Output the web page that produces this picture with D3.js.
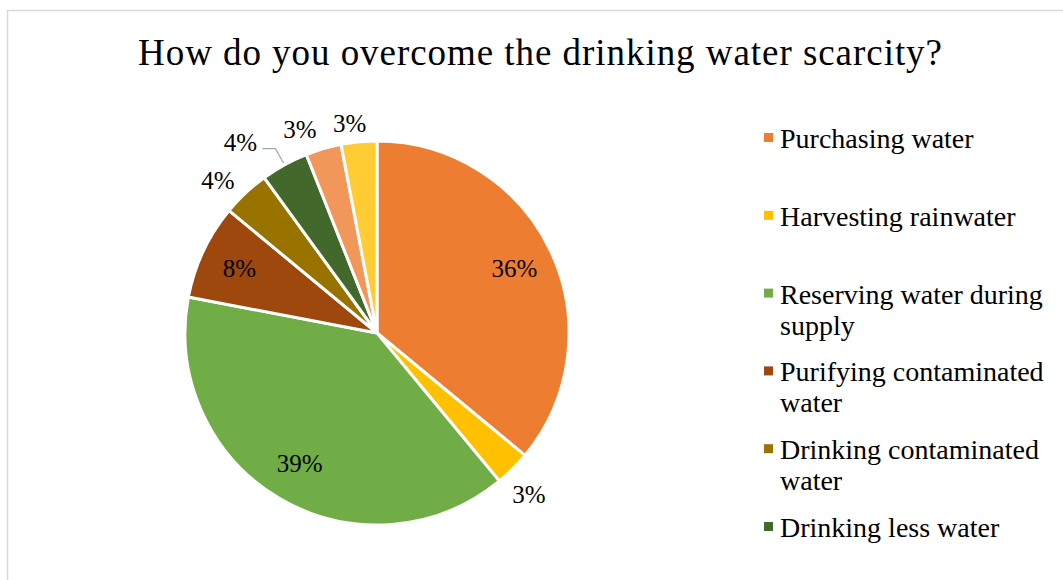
<!DOCTYPE html>
<html>
<head>
<meta charset="utf-8">
<script src="https://cdn.jsdelivr.net/npm/d3@7"></script>
<style>
  body { margin: 0; background: #fff; }
  svg { display: block; }
</style>
</head>
<body>
<div id="chart"></div>
<script>
// answers to "How do you overcome the drinking water scarcity?" (percent)
const categories = [
  "Purchasing water",
  "Harvesting rainwater",
  "Reserving water during supply",
  "Purifying contaminated water",
  "Drinking contaminated water",
  "Drinking less water",
  "Other (7)",
  "Other (8)"
];
const values = [36, 3, 39, 8, 4, 4, 3, 3];
const colors = ["#ED7D31", "#FFC000", "#70AD47", "#9E480E", "#997300", "#43682B", "#F1975A", "#FFCD33"];
// legend shows only the first six entries, wrapped as in the original
const legendLines = [
  ["Purchasing water"],
  ["Harvesting rainwater"],
  ["Reserving water during", "supply"],
  ["Purifying contaminated", "water"],
  ["Drinking contaminated", "water"],
  ["Drinking less water"]
];

const width = 1063, height = 580;
const font = "'Liberation Serif', 'DejaVu Serif', serif";

const svg = d3.select("#chart").append("svg")
  .attr("width", width)
  .attr("height", height);

// chart area border
svg.append("rect")
  .attr("x", 7.5).attr("y", 10.5)
  .attr("width", width + 20).attr("height", height + 20)
  .attr("fill", "#fff")
  .attr("stroke", "#d9d9d9")
  .attr("stroke-width", 1.5);

// title
svg.append("text")
  .attr("x", 540).attr("y", 65)
  .attr("text-anchor", "middle")
  .attr("textLength", 804)
  .attr("lengthAdjust", "spacing")
  .style("font-family", font)
  .style("font-size", "37px")
  .style("fill", "#000")
  .text("How do you overcome the drinking water scarcity?");

// pie
const cx = 377, cy = 333, radius = 192;
const pie = d3.pie().sort(null).value(d => d);
const arcs = pie(values);
const arc = d3.arc().innerRadius(0).outerRadius(radius);

const g = svg.append("g").attr("transform", `translate(${cx},${cy})`);

g.selectAll("path.slice")
  .data(arcs)
  .enter()
  .append("path")
  .attr("class", "slice")
  .attr("d", arc)
  .attr("fill", (d, i) => colors[i])
  .attr("stroke", "#fff")
  .attr("stroke-width", 3);

// labels: big slices inside, small ones outside (nudged apart like the original)
const inArc = d3.arc().innerRadius(152).outerRadius(152);
const outArc = d3.arc().innerRadius(215).outerRadius(215);
const nudge = { 1: [0, 9], 4: [-12, 4], 5: [-33, -2], 6: [-17, 3], 7: [-7, 5] };

function labelPos(d, i) {
  const [x, y] = (d.data >= 5 ? inArc : outArc).centroid(d);
  const n = nudge[i] || [0, 0];
  return [x + n[0], y + n[1]];
}

g.selectAll("text.lbl")
  .data(arcs)
  .enter()
  .append("text")
  .attr("class", "lbl")
  .attr("x", (d, i) => labelPos(d, i)[0])
  .attr("y", (d, i) => labelPos(d, i)[1])
  .attr("text-anchor", "middle")
  .attr("dominant-baseline", "central")
  .style("font-family", font)
  .style("font-size", "25px")
  .style("fill", "#000")
  .text(d => d.data + "%");

// leader line for the pushed label
{
  const d = arcs[5];
  const [lx, ly] = labelPos(d, 5);
  const edge = d3.arc().innerRadius(radius + 2).outerRadius(radius + 2).centroid(d);
  g.append("polyline")
    .attr("points", [[lx + 22, ly + 6], [lx + 35, ly + 6], edge].map(p => p.join(",")).join(" "))
    .attr("fill", "none")
    .attr("stroke", "#a6a6a6")
    .attr("stroke-width", 1.2);
}

// legend
const legendX = 764, legendTop = 138, legendStep = 77.8, lineH = 31;
const lg = svg.append("g");
legendLines.forEach((lines, i) => {
  const y = legendTop + i * legendStep;
  lg.append("rect")
    .attr("x", legendX).attr("y", y - 5)
    .attr("width", 9).attr("height", 9)
    .attr("fill", colors[i]);
  const t = lg.append("text")
    .attr("x", legendX + 16).attr("y", y)
    .attr("dominant-baseline", "central")
    .style("font-family", font)
    .style("font-size", "28px")
    .style("fill", "#000");
  lines.forEach((ln, k) => {
    t.append("tspan")
      .attr("x", legendX + 16)
      .attr("dy", k === 0 ? 0 : lineH)
      .text(ln);
  });
});
</script>
</body>
</html>
